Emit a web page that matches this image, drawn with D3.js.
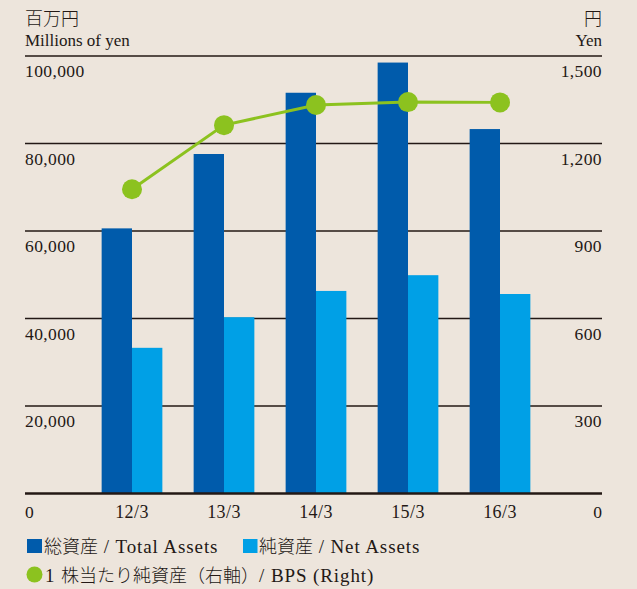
<!DOCTYPE html>
<html><head><meta charset="utf-8">
<script src="https://cdn.jsdelivr.net/npm/d3@7"></script>
<style>
html,body{margin:0;padding:0;background:#ede5dc;}
svg{display:block;}
text{font-family:"Liberation Serif","DejaVu Serif",serif;fill:#231815;}
.jp{font-family:"Noto Sans CJK JP",sans-serif;font-weight:300;}
</style></head>
<body>
<svg id="chart" width="637" height="589"></svg>
<script>
const categories = ["12/3","13/3","14/3","15/3","16/3"];
const totalAssets = [60600, 77600, 91600, 98500, 83300];
const netAssets = [33300, 40300, 46300, 49900, 45600];
const bps = [1043, 1263, 1332, 1342, 1341];
const leftTicks = [20000, 40000, 60000, 80000, 100000];
const rightTicks = [300, 600, 900, 1200, 1500];

const W = 637, H = 589;
const x0 = 25, x1 = 602, yTop = 56, yBase = 493.5;
const svg = d3.select("#chart");
svg.append("rect").attr("width",W).attr("height",H).attr("fill","#ede5dc");

const yL = d3.scaleLinear().domain([0,100000]).range([yBase,yTop]);
const yR = d3.scaleLinear().domain([0,1500]).range([yBase,yTop]);
const xBand = d3.scaleBand().domain(categories).range([86, 546]).paddingInner(0.34).paddingOuter(0.17);
const xC = d => xBand(d) + xBand.bandwidth()/2;
const bw = xBand.bandwidth()/2;

// gridlines
svg.append("g").selectAll("line").data(leftTicks).join("line")
  .attr("x1",x0).attr("x2",x1).attr("y1",d=>yL(d)).attr("y2",d=>yL(d))
  .attr("stroke","#231815").attr("stroke-width",1.4);

// bars
svg.append("g").selectAll("rect").data(categories).join("rect")
  .attr("x",d=>xBand(d)).attr("width",bw)
  .attr("y",(d,i)=>yL(totalAssets[i])).attr("height",(d,i)=>yBase-yL(totalAssets[i]))
  .attr("fill","#005bab");
svg.append("g").selectAll("rect").data(categories).join("rect")
  .attr("x",d=>xBand(d)+bw).attr("width",bw)
  .attr("y",(d,i)=>yL(netAssets[i])).attr("height",(d,i)=>yBase-yL(netAssets[i]))
  .attr("fill","#00a0e6");

// baseline
svg.append("line").attr("x1",x0).attr("x2",x1).attr("y1",yBase).attr("y2",yBase)
  .attr("stroke","#231815").attr("stroke-width",2.5);

// BPS line
const line = d3.line().x((d,i)=>xC(categories[i])).y(d=>yR(d));
svg.append("path").datum(bps).attr("d",line).attr("fill","none")
  .attr("stroke","#8cc21f").attr("stroke-width",3);
svg.append("g").selectAll("circle").data(bps).join("circle")
  .attr("cx",(d,i)=>xC(categories[i])).attr("cy",d=>yR(d)).attr("r",10)
  .attr("fill","#8cc21f");

// tick labels
const fmt = d3.format(",");
const FS = 17.5, LS = 0.4;
svg.append("g").selectAll("text").data(leftTicks).join("text")
  .attr("x",x0).attr("y",d=>yL(d)+21).attr("font-size",FS).attr("letter-spacing",LS).text(d=>fmt(d));
svg.append("g").selectAll("text").data(rightTicks).join("text")
  .attr("x",x1).attr("y",d=>yR(d)+21).attr("font-size",FS).attr("letter-spacing",LS).attr("text-anchor","end").text(d=>fmt(d));
svg.append("text").attr("x",x0).attr("y",yBase+24).attr("font-size",FS).text("0");
svg.append("text").attr("x",x1).attr("y",yBase+24).attr("font-size",FS).attr("text-anchor","end").text("0");
svg.append("g").selectAll("text").data(categories).join("text")
  .attr("x",d=>xC(d)).attr("y",yBase+24).attr("font-size",18).attr("letter-spacing",LS).attr("text-anchor","middle").text(d=>d);

// unit labels
svg.append("text").attr("class","jp").attr("x",x0).attr("y",25).attr("font-size",18).text("百万円");
svg.append("text").attr("x",x0).attr("y",46).attr("font-size",17).text("Millions of yen");
svg.append("text").attr("class","jp").attr("x",x1).attr("y",25).attr("font-size",18).attr("text-anchor","end").text("円");
svg.append("text").attr("x",x1).attr("y",46).attr("font-size",17).attr("text-anchor","end").text("Yen");

// legend
function legendText(x, y, parts){
  const t = svg.append("text").attr("x",x).attr("y",y);
  parts.forEach(p=>{
    const s = t.append("tspan").text(p[1]);
    if(p[0]==="jp"){ s.attr("class","jp").attr("font-size",18); }
    else { s.attr("font-size",19).attr("letter-spacing",0.9); }
  });
}
svg.append("rect").attr("x",27).attr("y",539).attr("width",15).attr("height",14).attr("fill","#005bab");
legendText(44, 553, [["jp","総資産"],["lat"," / Total Assets"]]);
svg.append("rect").attr("x",243).attr("y",539).attr("width",14.5).attr("height",14).attr("fill","#00a0e6");
legendText(259, 553, [["jp","純資産"],["lat"," / Net Assets"]]);
svg.append("circle").attr("cx",34.5).attr("cy",574.5).attr("r",8).attr("fill","#8cc21f");
legendText(45, 582, [["lat","1 "],["jp","株当たり純資産（右軸）"],["lat","/ BPS (Right)"]]);
</script>
</body></html>
